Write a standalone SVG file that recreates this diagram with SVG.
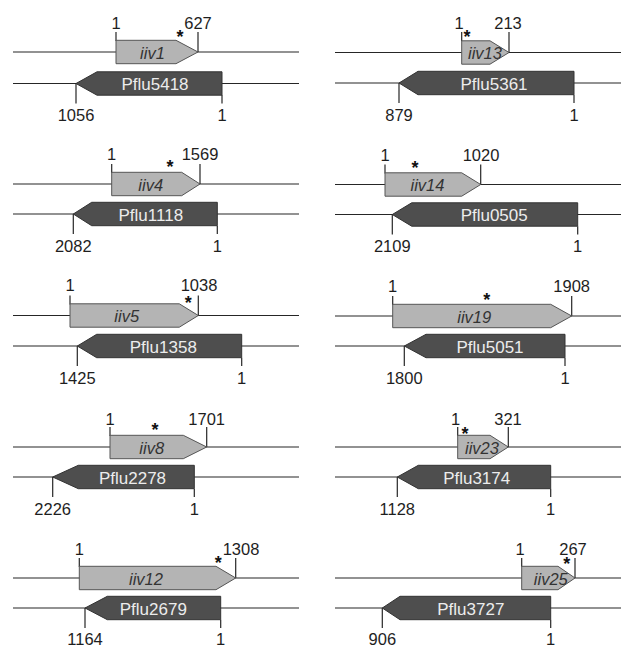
<svg xmlns="http://www.w3.org/2000/svg" width="621" height="647" viewBox="0 0 621 647">
<style>
.bg{fill:#fff}
.ln{stroke:#262626;stroke-width:1.2;fill:none}
.tk{stroke:#262626;stroke-width:1.2}
.la{fill:#b4b4b4;stroke:#555;stroke-width:1}
.da{fill:#4e4e4e;stroke:#333;stroke-width:1}
.num{font-family:"Liberation Sans",Arial,sans-serif;font-size:16.5px;fill:#1e1e1e;text-anchor:middle}
.lt{font-family:"Liberation Sans",Arial,sans-serif;font-size:16.5px;font-style:italic;fill:#333;text-anchor:middle}
.dt{font-family:"Liberation Sans",Arial,sans-serif;font-size:17px;fill:#ececec;text-anchor:middle}
.st{font-family:"Liberation Sans",Arial,sans-serif;font-size:18px;font-weight:bold;fill:#111;text-anchor:middle}
</style>
<rect class="bg" x="0" y="0" width="621" height="647"/>
<g id="connectors">
<line class="ln" x1="13" y1="52" x2="299" y2="52"/><line class="ln" x1="13" y1="83.5" x2="299" y2="83.5"/>
<line class="ln" x1="335" y1="52.5" x2="621" y2="52.5"/><line class="ln" x1="335" y1="83" x2="621" y2="83"/>
<line class="ln" x1="13" y1="184" x2="299" y2="184"/><line class="ln" x1="13" y1="214" x2="299" y2="214"/>
<line class="ln" x1="335" y1="184.5" x2="621" y2="184.5"/><line class="ln" x1="335" y1="214.5" x2="621" y2="214.5"/>
<line class="ln" x1="13" y1="315.5" x2="299" y2="315.5"/><line class="ln" x1="13" y1="346" x2="299" y2="346"/>
<line class="ln" x1="335" y1="316" x2="621" y2="316"/><line class="ln" x1="335" y1="346" x2="621" y2="346"/>
<line class="ln" x1="13" y1="447" x2="299" y2="447"/><line class="ln" x1="13" y1="477" x2="299" y2="477"/>
<line class="ln" x1="335" y1="447" x2="621" y2="447"/><line class="ln" x1="335" y1="477" x2="621" y2="477"/>
<line class="ln" x1="13" y1="578" x2="299" y2="578"/><line class="ln" x1="13" y1="608" x2="299" y2="608"/>
<line class="ln" x1="335" y1="578" x2="621" y2="578"/><line class="ln" x1="335" y1="608" x2="621" y2="608"/>
</g>

<g id="panel-iiv1">
<line class="tk" x1="116" y1="32" x2="116" y2="41"/><line class="tk" x1="198" y1="32" x2="198" y2="52"/>
<polygon class="la" points="116,40.3 176,40.3 198,52 176,63.7 116,63.7"/>
<text class="lt" x="152.5" y="58.5">iiv1</text>
<text class="num" x="116" y="29">1</text><text class="num" x="198" y="29">627</text>
<text class="st" x="180" y="42.5">*</text>
<line class="tk" x1="76" y1="83.5" x2="76" y2="103.5"/><line class="tk" x1="222" y1="95" x2="222" y2="103.5"/>
<polygon class="da" points="76,83.5 97,71.8 222,71.8 222,95.2 97,95.2"/>
<text class="dt" x="155" y="90">Pflu5418</text>
<text class="num" x="76" y="121">1056</text><text class="num" x="222" y="121">1</text>
</g>

<g id="panel-iiv13">
<line class="tk" x1="461.7" y1="32" x2="461.7" y2="41"/><line class="tk" x1="509" y1="32" x2="509" y2="52.5"/>
<polygon class="la" points="461.7,40.8 490,40.8 509,52.5 490,64.2 461.7,64.2"/>
<text class="lt" x="485" y="59">iiv13</text>
<text class="num" x="459" y="29">1</text><text class="num" x="508" y="29">213</text>
<text class="st" x="467" y="42.5">*</text>
<line class="tk" x1="399" y1="83" x2="399" y2="103"/><line class="tk" x1="574" y1="94.7" x2="574" y2="103"/>
<polygon class="da" points="399,83 418,71.3 574,71.3 574,94.7 418,94.7"/>
<text class="dt" x="494" y="89.5">Pflu5361</text>
<text class="num" x="399" y="120.5">879</text><text class="num" x="574" y="120.5">1</text>
</g>

<g id="panel-iiv4">
<line class="tk" x1="111.7" y1="164" x2="111.7" y2="173"/><line class="tk" x1="200" y1="164" x2="200" y2="184"/>
<polygon class="la" points="111.7,172.3 181.7,172.3 200,184 181.7,195.7 111.7,195.7"/>
<text class="lt" x="150.7" y="190.5">iiv4</text>
<text class="num" x="111.7" y="160">1</text><text class="num" x="200" y="160">1569</text>
<text class="st" x="170" y="173">*</text>
<line class="tk" x1="73.3" y1="214" x2="73.3" y2="234"/><line class="tk" x1="217.3" y1="225.7" x2="217.3" y2="234"/>
<polygon class="da" points="73.3,214 91.7,202.3 217.3,202.3 217.3,225.7 91.7,225.7"/>
<text class="dt" x="150.8" y="220.5">Pflu1118</text>
<text class="num" x="73.3" y="251.5">2082</text><text class="num" x="217.3" y="251.5">1</text>
</g>

<g id="panel-iiv14">
<line class="tk" x1="385" y1="164.5" x2="385" y2="173.5"/><line class="tk" x1="480.7" y1="164.5" x2="480.7" y2="184.5"/>
<polygon class="la" points="385,172.8 461.7,172.8 480.7,184.5 461.7,196.2 385,196.2"/>
<text class="lt" x="427.5" y="191">iiv14</text>
<text class="num" x="385" y="160.5">1</text><text class="num" x="481" y="160.5">1020</text>
<text class="st" x="415" y="174">*</text>
<line class="tk" x1="392.3" y1="214.5" x2="392.3" y2="234.5"/><line class="tk" x1="577.7" y1="226.2" x2="577.7" y2="234.5"/>
<polygon class="da" points="392.3,214.5 411.7,202.8 577.7,202.8 577.7,226.2 411.7,226.2"/>
<text class="dt" x="494.2" y="221">Pflu0505</text>
<text class="num" x="392.3" y="252">2109</text><text class="num" x="577.7" y="252">1</text>
</g>

<g id="panel-iiv5">
<line class="tk" x1="70" y1="295.5" x2="70" y2="304.5"/><line class="tk" x1="198.3" y1="295.5" x2="198.3" y2="315.5"/>
<polygon class="la" points="70,303.8 179.3,303.8 198.3,315.5 179.3,327.2 70,327.2"/>
<text class="lt" x="126.7" y="322">iiv5</text>
<text class="num" x="70" y="291">1</text><text class="num" x="199" y="291">1038</text>
<text class="st" x="188.3" y="308.5">*</text>
<line class="tk" x1="77.3" y1="346" x2="77.3" y2="366"/><line class="tk" x1="241.7" y1="357.7" x2="241.7" y2="366"/>
<polygon class="da" points="77.3,346 96.7,334.3 241.7,334.3 241.7,357.7 96.7,357.7"/>
<text class="dt" x="163.3" y="352.5">Pflu1358</text>
<text class="num" x="77.3" y="383.5">1425</text><text class="num" x="241.7" y="383.5">1</text>
</g>

<g id="panel-iiv19">
<line class="tk" x1="392.7" y1="296" x2="392.7" y2="305"/><line class="tk" x1="571.7" y1="296" x2="571.7" y2="316"/>
<polygon class="la" points="392.7,304.3 550.7,304.3 571.7,316 550.7,327.7 392.7,327.7"/>
<text class="lt" x="474.2" y="322.5">iiv19</text>
<text class="num" x="392.7" y="292">1</text><text class="num" x="571.7" y="292">1908</text>
<text class="st" x="486.7" y="306">*</text>
<line class="tk" x1="404.3" y1="346" x2="404.3" y2="366"/><line class="tk" x1="565" y1="357.7" x2="565" y2="366"/>
<polygon class="da" points="404.3,346 426,334.3 565,334.3 565,357.7 426,357.7"/>
<text class="dt" x="490" y="352.5">Pflu5051</text>
<text class="num" x="404.3" y="383.5">1800</text><text class="num" x="565" y="383.5">1</text>
</g>

<g id="panel-iiv8">
<line class="tk" x1="110" y1="427" x2="110" y2="436"/><line class="tk" x1="206.7" y1="427" x2="206.7" y2="447"/>
<polygon class="la" points="110,435.3 183.3,435.3 206.7,447 183.3,458.7 110,458.7"/>
<text class="lt" x="151.7" y="453.5">iiv8</text>
<text class="num" x="110" y="424.5">1</text><text class="num" x="206.7" y="424.5">1701</text>
<text class="st" x="155" y="436">*</text>
<line class="tk" x1="52.7" y1="477" x2="52.7" y2="497"/><line class="tk" x1="194.3" y1="488.7" x2="194.3" y2="497"/>
<polygon class="da" points="52.7,477 78.3,465.3 194.3,465.3 194.3,488.7 78.3,488.7"/>
<text class="dt" x="132.5" y="483.5">Pflu2278</text>
<text class="num" x="52.7" y="515">2226</text><text class="num" x="194.3" y="515">1</text>
</g>

<g id="panel-iiv23">
<line class="tk" x1="457.7" y1="427" x2="457.7" y2="436"/><line class="tk" x1="508.3" y1="427" x2="508.3" y2="447"/>
<polygon class="la" points="457.7,435.3 490,435.3 508.3,447 490,458.7 457.7,458.7"/>
<text class="lt" x="482" y="453.5">iiv23</text>
<text class="num" x="455.7" y="424.5">1</text><text class="num" x="508" y="424.5">321</text>
<text class="st" x="465" y="439.5">*</text>
<line class="tk" x1="397.3" y1="477" x2="397.3" y2="497"/><line class="tk" x1="550.7" y1="488.7" x2="550.7" y2="497"/>
<polygon class="da" points="397.3,477 418.3,465.3 550.7,465.3 550.7,488.7 418.3,488.7"/>
<text class="dt" x="476.7" y="483.5">Pflu3174</text>
<text class="num" x="397.3" y="515">1128</text><text class="num" x="550.7" y="515">1</text>
</g>

<g id="panel-iiv12">
<line class="tk" x1="79.3" y1="558" x2="79.3" y2="567"/><line class="tk" x1="235.7" y1="558" x2="235.7" y2="578"/>
<polygon class="la" points="79.3,566.3 216,566.3 235.7,578 216,589.7 79.3,589.7"/>
<text class="lt" x="146" y="584.5">iiv12</text>
<text class="num" x="79.3" y="555">1</text><text class="num" x="241" y="555">1308</text>
<text class="st" x="218.3" y="568.5">*</text>
<line class="tk" x1="85" y1="608" x2="85" y2="628"/><line class="tk" x1="220.7" y1="619.7" x2="220.7" y2="628"/>
<polygon class="da" points="85,608 107.3,596.3 220.7,596.3 220.7,619.7 107.3,619.7"/>
<text class="dt" x="153.3" y="614.5">Pflu2679</text>
<text class="num" x="85" y="645">1164</text><text class="num" x="220.7" y="645">1</text>
</g>

<g id="panel-iiv25">
<line class="tk" x1="521.7" y1="558" x2="521.7" y2="567"/><line class="tk" x1="575" y1="558" x2="575" y2="578"/>
<polygon class="la" points="521.7,566.3 558,566.3 575,578 558,589.7 521.7,589.7"/>
<text class="lt" x="550.8" y="584.5">iiv25</text>
<text class="num" x="520" y="555">1</text><text class="num" x="573" y="555">267</text>
<text class="st" x="566.7" y="569.5">*</text>
<line class="tk" x1="382.3" y1="608" x2="382.3" y2="628"/><line class="tk" x1="550.7" y1="619.7" x2="550.7" y2="628"/>
<polygon class="da" points="382.3,608 400,596.3 550.7,596.3 550.7,619.7 400,619.7"/>
<text class="dt" x="470.8" y="614.5">Pflu3727</text>
<text class="num" x="382.3" y="645">906</text><text class="num" x="550.7" y="645">1</text>
</g>
</svg>
